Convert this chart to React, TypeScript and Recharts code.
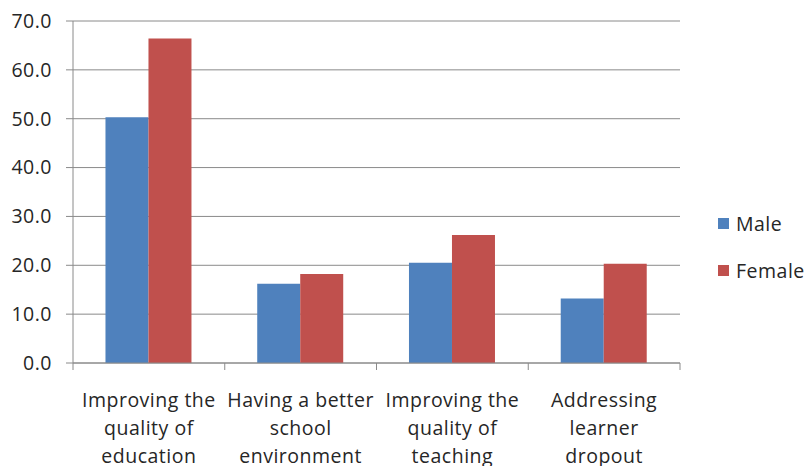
import React from "react";
import { BarChart, Bar, XAxis, YAxis, CartesianGrid, Legend } from "recharts";

const categories = [
  "Improving the\nquality of\neducation",
  "Having a better\nschool\nenvironment",
  "Improving the\nquality of\nteaching",
  "Addressing\nlearner\ndropout",
];
const seriesNames = ["Male", "Female"];
const maleValues = [50.3, 16.2, 20.5, 13.2];
const femaleValues = [66.4, 18.2, 26.2, 20.3];
const yTicks = [0, 10, 20, 30, 40, 50, 60, 70];

const data = categories.map((c, i) => ({ category: c, Male: maleValues[i], Female: femaleValues[i] }));

const FONT = "'Open Sans', sans-serif";
const TEXT = "#262626";
const GRID = "#8a8a8a";
const FS = 19.5;
const LS = 0.5;

const CatTick = (props: any) => {
  const { x, y, payload, visibleTicksCount, width, index } = props;
  const count = visibleTicksCount || categories.length;
  const band = (width || 607) / count;
  const lines = String(payload.value).split("\n");
  return (
    <g>
      <line x1={x - band / 2} y1={y} x2={x - band / 2} y2={y + 7} stroke={GRID} />
      {index === count - 1 && (
        <line x1={x + band / 2} y1={y} x2={x + band / 2} y2={y + 7} stroke={GRID} />
      )}
      <text x={x} y={y} textAnchor="middle" fill={TEXT} fontFamily={FONT} fontSize={FS} letterSpacing={LS}>
        {lines.map((l, i) => (
          <tspan key={i} x={x} y={y + 44 + i * 28}>
            {l}
          </tspan>
        ))}
      </text>
    </g>
  );
};

const LegendContent = (props: any) => {
  const payload = [...(props.payload || [])].sort(
    (a: any, b: any) => seriesNames.indexOf(a.value) - seriesNames.indexOf(b.value)
  );
  return (
    <div style={{ fontFamily: FONT }}>
      {payload.map((p: any, i: number) => (
        <div key={i} style={{ display: "flex", alignItems: "center", height: 47 }}>
          <span style={{ display: "inline-block", width: 11, height: 11, background: p.color, marginRight: 7 }} />
          <span style={{ fontSize: FS, color: TEXT, letterSpacing: LS }}>{p.value}</span>
        </div>
      ))}
    </div>
  );
};

export default function App() {
  return (
    <div style={{ position: "absolute", left: 0, top: 0, background: "#fff" }}>
      <BarChart
        width={806}
        height={466}
        data={data}
        margin={{ top: 21, right: 36, bottom: 73, left: 0 }}
        barCategoryGap="21.4%"
        barGap={0}
      >
        <CartesianGrid vertical={false} stroke={GRID} strokeDasharray="" />
        <XAxis
          dataKey="category"
          interval={0}
          height={30}
          tickLine={false}
          tickSize={0}
          tickMargin={0}
          axisLine={{ stroke: GRID }}
          tick={<CatTick />}
        />
        <YAxis
          width={73}
          domain={[0, 70]}
          ticks={yTicks}
          interval={0}
          tickFormatter={(v: number) => v.toFixed(1)}
          tickSize={7}
          tickMargin={14}
          tickLine={{ stroke: GRID }}
          axisLine={{ stroke: GRID }}
          tick={{ fill: TEXT, fontFamily: FONT, fontSize: FS, letterSpacing: LS }}
        />
        <Legend
          layout="vertical"
          align="right"
          verticalAlign="top"
          content={<LegendContent />}
          wrapperStyle={{ left: 718, top: 200, width: 90 }}
        />
        <Bar dataKey="Male" fill="#4F81BD" isAnimationActive={false} />
        <Bar dataKey="Female" fill="#C0504D" isAnimationActive={false} />
      </BarChart>
    </div>
  );
}
